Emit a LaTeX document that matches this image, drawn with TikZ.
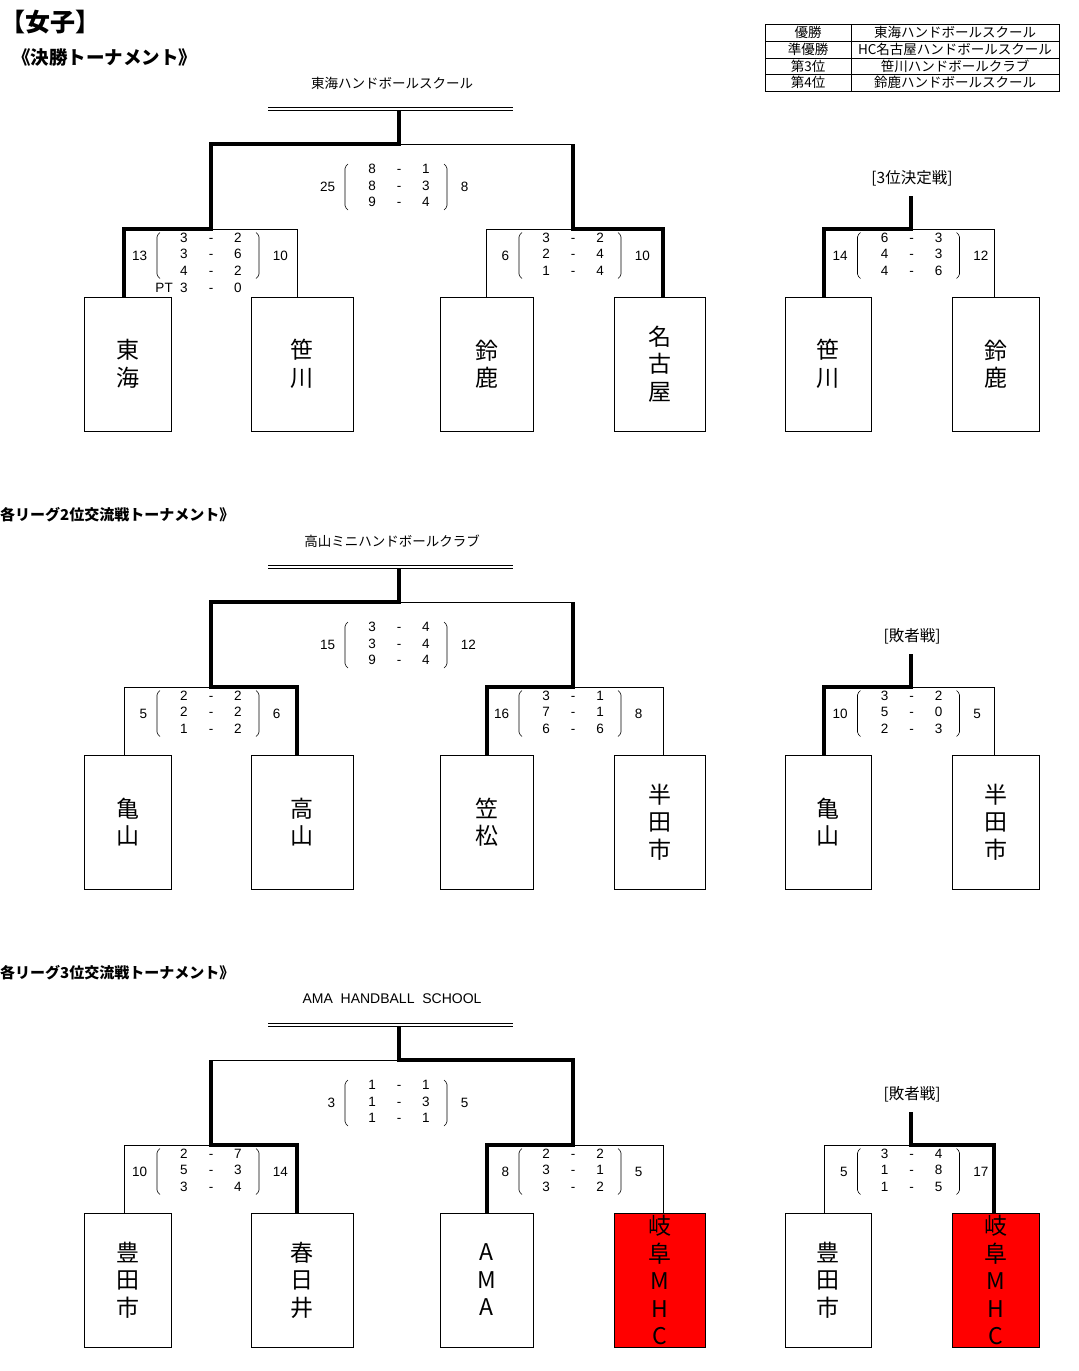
\documentclass[tikz,border=0pt]{standalone}
\usepackage{fontspec}
\usepackage{array}
\usepackage{tikz}
\usetikzlibrary{positioning}
\setmainfont{Liberation Sans}
\newfontfamily\jp{Noto Sans CJK JP}

\newcommand{\scorerows}[1]{\begin{tabular}{@{}w{c}{27pt}@{}w{c}{27pt}@{}w{c}{27pt}@{}}#1\end{tabular}}
\newcommand{\scoreset}[5]{%
  \node[score] (#1) at (#2) {\scorerows{#5}};
  \node[score, left=23pt of #1] (#1 l) {#3};
  \node[score, right=21pt of #1] (#1 r) {#4};
  \draw[paren, shift={(#2)}] (-51,-23) -- (-54,-20) -- (-54,20) -- (-51,23)
    (45,-23) -- (48,-20) -- (48,20) -- (45,23);
}

\begin{document}
\begin{tikzpicture}[x=1pt, y=-1pt,
  box/.style={draw, line width=0.8pt, minimum height=134pt, inner sep=0pt,
    align=center, font=\jp\fontsize{23}{27.5}\selectfont},
  red box/.style={box, fill=red},
  score/.style={inner sep=0pt, font=\fontsize{13.5}{16.5}\selectfont},
  paren/.style={line width=0.6pt, rounded corners=1.5pt},
  lost/.style={line width=0.8pt},
  won/.style={line width=4pt},
  champ/.style={font=\jp\fontsize{13.5}{15}\selectfont},
  bar/.style={double, double distance=2.2pt, line width=0.8pt},
  round name/.style={font=\jp\fontsize{15.5}{17}\selectfont},
  title/.style={anchor=west, inner sep=0pt, font=\jp\bfseries\fontsize{15}{17}\selectfont},
  cell/.style={inner sep=0pt, font=\jp\fontsize{13.5}{15}\selectfont}]

  \path[fill=white, use as bounding box] (0,0) rectangle (1079,1371);

  % headings
  \node[title, font=\jp\bfseries\fontsize{25}{27}\selectfont] (women) at (0,22) {【女子】};
  \node[title, font=\jp\bfseries\fontsize{18.5}{20}\selectfont] (final title) at (12,57) {《決勝トーナメント》};

  % results table
  \draw[lost] (765,24) rectangle (1059,91);
  \draw[lost] (765,41) -- (1059,41) (765,58) -- (1059,58) (765,74) -- (1059,74)
    (851,24) -- (851,91);
  \node[cell] (rank1) at (808,32.5) {優勝};
  \node[cell] (team1) at (955,32.5) {東海ハンドボールスクール};
  \node[cell] (rank2) at (808,49.5) {準優勝};
  \node[cell] (team2) at (955,49.5) {HC名古屋ハンドボールスクール};
  \node[cell] (rank3) at (808,66) {第3位};
  \node[cell] (team3) at (955,66) {笹川ハンドボールクラブ};
  \node[cell] (rank4) at (808,82.5) {第4位};
  \node[cell] (team4) at (955,82.5) {鈴鹿ハンドボールスクール};

  % final tournament
  \node[champ] (champ1) at (392,83) {東海ハンドボールスクール};
  \draw[bar] (268,109) -- (513,109);
  \coordinate (w1) at (399,111);
  \coordinate (f1) at (399,144);
  \coordinate (s1l) at (211,229);
  \coordinate (s1r) at (573,229);
  \coordinate (t1) at (911,229);
  \coordinate (w1t) at (911,196);
  \node[round name] (third) at (912,178) {[3位決定戦]};

  \node[box, minimum width=87pt] (tokai) at (127.5,364) {東\\海};
  \node[box, minimum width=102pt] (sasagawa) at (302,364) {笹\\川};
  \node[box, minimum width=93pt] (suzuka) at (486.5,364) {鈴\\鹿};
  \node[box, minimum width=91pt] (nagoya) at (659.5,364) {名\\古\\屋};
  \node[box, minimum width=86pt] (sasagawa3) at (828,364) {笹\\川};
  \node[box, minimum width=87pt] (suzuka3) at (995.5,364) {鈴\\鹿};

  \draw[lost] (f1) -- (f1 -| s1r)
    (s1l) -| ([xshift=-5pt]sasagawa.north)
    (s1r) -| (suzuka.north)
    (t1) -| ([xshift=-1.5pt]suzuka3.north);
  \draw[won] (w1) -- (f1) -| (s1l) -| ([xshift=-3.5pt]tokai.north);
  \draw[won] (f1 -| s1r) -- (s1r) -| ([xshift=3.5pt]nagoya.north);
  \draw[won] (w1t) -- (t1) -| ([xshift=-4pt]sasagawa3.north);

  \scoreset{sc1f}{399,187}{25}{8}{8&-&1\\8&-&3\\9&-&4}
  \scoreset{sc1l}{211,255.5}{13}{10}{3&-&2\\3&-&6\\4&-&2}
  \node[score, anchor=north] (pt1) at (sc1l.south) {\scorerows{\llap{PT\ \ }3&-&0}};
  \scoreset{sc1r}{573,255.5}{6}{10}{3&-&2\\2&-&4\\1&-&4}
  \scoreset{sc1t}{911.5,255.5}{14}{12}{6&-&3\\4&-&3\\4&-&6}

  % second places
  \begin{scope}[yshift=-458pt]
    \node[title] (second title) at (0,57) {各リーグ2位交流戦トーナメント》};
    \node[champ] (champ2) at (392,83) {高山ミニハンドボールクラブ};
    \draw[bar] (268,109) -- (513,109);
    \coordinate (w2) at (399,111);
    \coordinate (f2) at (399,144);
    \coordinate (s2l) at (211,229);
    \coordinate (s2r) at (573,229);
    \coordinate (t2) at (911,229);
    \coordinate (w2t) at (911,196);
    \node[round name] (consol2) at (912,178) {[敗者戦]};

    \node[box, minimum width=87pt] (kameyama) at (127.5,364) {亀\\山};
    \node[box, minimum width=102pt] (takayama) at (302,364) {高\\山};
    \node[box, minimum width=93pt] (kasamatsu) at (486.5,364) {笠\\松};
    \node[box, minimum width=91pt] (handa) at (659.5,364) {半\\田\\市};
    \node[box, minimum width=86pt] (kameyama2) at (828,364) {亀\\山};
    \node[box, minimum width=87pt] (handa2) at (995.5,364) {半\\田\\市};

    \draw[lost] (f2) -- (f2 -| s2r)
      (s2l) -| ([xshift=-3.5pt]kameyama.north)
      (s2r) -| ([xshift=3.5pt]handa.north)
      (t2) -| ([xshift=-1.5pt]handa2.north);
    \draw[won] (w2) -- (f2) -| (s2l) -| ([xshift=-5pt]takayama.north);
    \draw[won] (f2 -| s2r) -- (s2r) -| (kasamatsu.north);
    \draw[won] (w2t) -- (t2) -| ([xshift=-4pt]kameyama2.north);

    \scoreset{sc2f}{399,187}{15}{12}{3&-&4\\3&-&4\\9&-&4}
    \scoreset{sc2l}{211,255.5}{5}{6}{2&-&2\\2&-&2\\1&-&2}
    \scoreset{sc2r}{573,255.5}{16}{8}{3&-&1\\7&-&1\\6&-&6}
    \scoreset{sc2t}{911.5,255.5}{10}{5}{3&-&2\\5&-&0\\2&-&3}
  \end{scope}

  % third places
  \begin{scope}[yshift=-916pt]
    \node[title] (third title) at (0,57) {各リーグ3位交流戦トーナメント》};
    \node[champ, font=\fontsize{14}{16}\selectfont] (champ3) at (392,83) {AMA\ \ HANDBALL\ \ SCHOOL};
    \draw[bar] (268,109) -- (513,109);
    \coordinate (w3) at (399,111);
    \coordinate (f3) at (399,144);
    \coordinate (s3l) at (211,229);
    \coordinate (s3r) at (573,229);
    \coordinate (t3) at (911,229);
    \coordinate (w3t) at (911,196);
    \node[round name] (consol3) at (912,178) {[敗者戦]};

    \node[box, minimum width=87pt] (toyota) at (127.5,364) {豊\\田\\市};
    \node[box, minimum width=102pt] (kasugai) at (302,364) {春\\日\\井};
    \node[box, minimum width=93pt] (ama) at (486.5,364) {A\\M\\A};
    \node[red box, minimum width=91pt] (gifu) at (659.5,364) {岐\\阜\\M\\H\\C};
    \node[box, minimum width=86pt] (toyota2) at (828,364) {豊\\田\\市};
    \node[red box, minimum width=87pt] (gifu2) at (995.5,364) {岐\\阜\\M\\H\\C};

    \draw[lost] (f3) -- (f3 -| s3l)
      (s3l) -| ([xshift=-3.5pt]toyota.north)
      (s3r) -| ([xshift=3.5pt]gifu.north)
      (t3) -| ([xshift=-4pt]toyota2.north);
    \draw[won] (w3) -- (f3) -| (s3r) -| (ama.north);
    \draw[won] (f3 -| s3l) -- (s3l) -| ([xshift=-5pt]kasugai.north);
    \draw[won] (w3t) -- (t3) -| ([xshift=-1.5pt]gifu2.north);

    \scoreset{sc3f}{399,187}{3}{5}{1&-&1\\1&-&3\\1&-&1}
    \scoreset{sc3l}{211,255.5}{10}{14}{2&-&7\\5&-&3\\3&-&4}
    \scoreset{sc3r}{573,255.5}{8}{5}{2&-&2\\3&-&1\\3&-&2}
    \scoreset{sc3t}{911.5,255.5}{5}{17}{3&-&4\\1&-&8\\1&-&5}
  \end{scope}
\end{tikzpicture}
\end{document}
